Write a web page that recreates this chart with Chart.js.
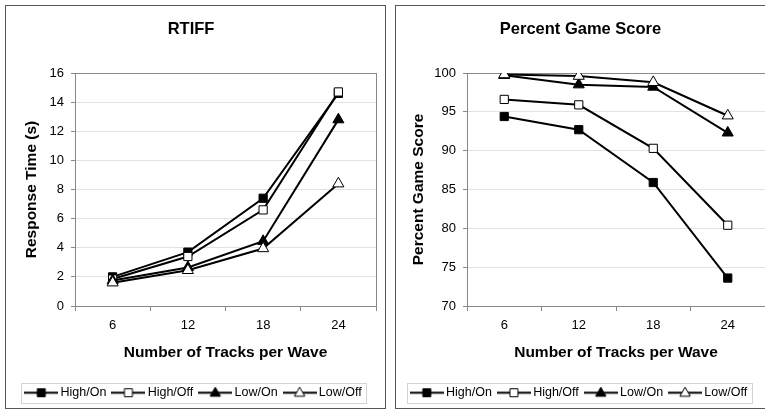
<!DOCTYPE html>
<html>
<head>
<meta charset="utf-8">
<script src="https://cdn.jsdelivr.net/npm/chart.js@4/dist/chart.umd.min.js"></script>
<style>
    html, body { margin: 0; padding: 0; background: #fff; }
    body { width: 765px; height: 409px; position: relative; overflow: hidden; }
    .painel { position: absolute; top: 5px; height: 402px; border: 1px solid #555; overflow: hidden; background: #fff; }
    #painel-rtiff { left: 5px; width: 379px; }
    #painel-score { left: 395px; width: 380px; }
    canvas { display: block; }
</style>
</head>
<body>
<div class="painel" id="painel-rtiff"><canvas id="grafico-rtiff" width="379" height="404"></canvas></div>
<div class="painel" id="painel-score"><canvas id="grafico-score" width="380" height="404"></canvas></div>
<script>
// --- Dados ---
const categorias = ['6', '12', '18', '24'];
const nomesSeries = ['High/On', 'High/Off', 'Low/On', 'Low/Off'];

// RTIFF - tempo de resposta (s)
const rtiffHighOn = [2.0, 3.7, 7.4, 14.6];
const rtiffHighOff = [1.85, 3.4, 6.6, 14.7];
const rtiffLowOn = [1.75, 2.65, 4.45, 12.8];
const rtiffLowOff = [1.6, 2.45, 3.95, 8.4];
const rtiffTicks = [0, 2, 4, 6, 8, 10, 12, 14, 16];

// Percent Game Score
const scoreHighOn = [94.4, 92.7, 85.9, 73.6];
const scoreHighOff = [96.6, 95.9, 90.3, 80.4];
const scoreLowOn = [99.7, 98.5, 98.2, 92.3];
const scoreLowOff = [99.8, 99.6, 98.8, 94.5];
const scoreTicks = [70, 75, 80, 85, 90, 95, 100];

const FONTE = "'Liberation Sans', Arial, sans-serif";

// Estilo de marcador por série (quadrado/triângulo, cheio/vazio)
const marcadores = [
    { forma: 'rect', cor: '#000', raio: 5.8 },
    { forma: 'rect', cor: '#fff', raio: 5.8 },
    { forma: 'triangle', cor: '#000', raio: 6.4 },
    { forma: 'triangle', cor: '#fff', raio: 6.4 }
];

/**
 * Cria o ícone da legenda (linha com o marcador no meio).
 */
function iconeLegenda(m) {
    const c = document.createElement('canvas');
    c.width = 34;
    c.height = 13;
    const ctx = c.getContext('2d');
    ctx.strokeStyle = '#000';
    ctx.lineWidth = 2;
    ctx.beginPath();
    ctx.moveTo(0, 6.5);
    ctx.lineTo(34, 6.5);
    ctx.stroke();
    ctx.lineWidth = 1;
    ctx.fillStyle = m.cor;
    ctx.beginPath();
    if (m.forma === 'rect') {
        ctx.rect(13, 2.5, 8, 8);
    } else {
        ctx.moveTo(17, 1);
        ctx.lineTo(22.2, 10);
        ctx.lineTo(11.8, 10);
        ctx.closePath();
    }
    ctx.fill();
    ctx.stroke();
    return c;
}

// Moldura cinza da área do gráfico e caixa da legenda
const pluginMoldura = {
    id: 'moldura',
    afterLayout(chart, args, opts) {
        // desloca a legenda na horizontal, como no original
        const legenda = chart.legend;
        if (legenda && opts.deslocamento) {
            legenda.left += opts.deslocamento;
            legenda.right += opts.deslocamento;
        }
    },
    beforeDatasetsDraw(chart) {
        const { ctx, chartArea: a } = chart;
        ctx.save();
        ctx.strokeStyle = '#888';
        ctx.lineWidth = 1;
        ctx.strokeRect(Math.round(a.left) + 0.5, Math.round(a.top) + 0.5,
            Math.round(a.right - a.left), Math.round(a.bottom - a.top));
        ctx.restore();
    },
    afterDraw(chart) {
        const legenda = chart.legend;
        const caixas = legenda.legendHitBoxes;
        if (!caixas || !caixas.length) return;
        const ultima = caixas[caixas.length - 1];
        const esquerda = caixas[0].left - 7;
        const direita = ultima.left + ultima.width + 5;
        const centro = caixas[0].top + caixas[0].height / 2;
        const { ctx } = chart;
        ctx.save();
        ctx.strokeStyle = '#d4d4d4';
        ctx.lineWidth = 1;
        ctx.strokeRect(Math.round(esquerda) + 0.5, Math.round(centro - 10) + 0.5,
            Math.round(direita - esquerda), 20);
        ctx.restore();
    }
};

/**
 * Monta um dos dois gráficos de linha.
 */
function criarGrafico(id, titulo, tituloY, series, ticks, cfg) {
    const ctx = document.getElementById(id).getContext('2d');
    return new Chart(ctx, {
        type: 'line',
        data: {
            labels: categorias,
            datasets: series.map((valores, i) => ({
                label: nomesSeries[i],
                data: valores,
                order: series.length - i, // séries seguintes ficam por cima
                borderColor: '#000',
                borderWidth: 2,
                tension: 0,
                pointStyle: marcadores[i].forma,
                pointRadius: marcadores[i].raio,
                pointHoverRadius: marcadores[i].raio,
                pointBackgroundColor: marcadores[i].cor,
                pointBorderColor: '#000',
                pointBorderWidth: 1
            }))
        },
        options: {
            responsive: false,
            animation: false,
            layout: { padding: { left: 0, right: cfg.direita, top: 0, bottom: 1 } },
            scales: {
                x: {
                    offset: true,
                    afterFit: (s) => { s.height = 71.5; },
                    grid: { offset: true, drawOnChartArea: false, tickLength: 5, color: '#888' },
                    border: { color: '#888' },
                    ticks: { color: '#000', padding: 7, font: { family: FONTE, size: 13 } },
                    title: {
                        display: true,
                        text: 'Number of Tracks per Wave',
                        color: '#000',
                        font: { family: FONTE, size: 15.5, weight: 'bold' },
                        padding: { top: 0, bottom: 15.2 }
                    }
                },
                y: {
                    min: ticks[0],
                    max: ticks[ticks.length - 1],
                    afterFit: (s) => { s.width = cfg.larguraY; },
                    afterBuildTicks: (s) => { s.ticks = ticks.map(v => ({ value: v })); },
                    grid: { color: '#e2e2e2', tickColor: '#888', tickLength: 4 },
                    border: { color: '#888' },
                    ticks: { color: '#000', padding: cfg.padTick, font: { family: FONTE, size: 13 } },
                    title: {
                        display: true,
                        text: tituloY,
                        color: '#000',
                        font: { family: FONTE, size: 15.5, weight: 'bold' },
                        padding: { top: cfg.padTituloY, bottom: 0 }
                    }
                }
            },
            plugins: {
                moldura: { deslocamento: cfg.deslocLegenda },
                title: {
                    display: true,
                    text: titulo,
                    color: '#000',
                    font: { family: FONTE, size: 16.5, weight: 'bold' },
                    padding: { top: 13.1, bottom: 34.1 }
                },
                legend: {
                    position: 'bottom',
                    labels: {
                        usePointStyle: true,
                        pointStyleWidth: 26,
                        padding: 9,
                        color: '#000',
                        font: { family: FONTE, size: 12.5 },
                        generateLabels: (chart) => chart.data.datasets.map((ds, i) => ({
                            text: ds.label,
                            pointStyle: iconeLegenda(marcadores[i]),
                            datasetIndex: i,
                            fillStyle: 'transparent',
                            strokeStyle: 'transparent',
                            lineWidth: 0,
                            hidden: false
                        }))
                    }
                },
                tooltip: { enabled: false }
            }
        },
        plugins: [pluginMoldura]
    });
}

// --- Inicialização ---
criarGrafico('grafico-rtiff', 'RTIFF', 'Response Time (s)',
    [rtiffHighOn, rtiffHighOff, rtiffLowOn, rtiffLowOff], rtiffTicks,
    { direita: 9, larguraY: 69, padTick: 7, padTituloY: 16.7, deslocLegenda: 4 });

criarGrafico('grafico-score', 'Percent Game Score', 'Percent Game Score',
    [scoreHighOn, scoreHighOff, scoreLowOn, scoreLowOff], scoreTicks,
    { direita: 11, larguraY: 71, padTick: 7, padTituloY: 13.7, deslocLegenda: 0 });
</script>
</body>
</html>
